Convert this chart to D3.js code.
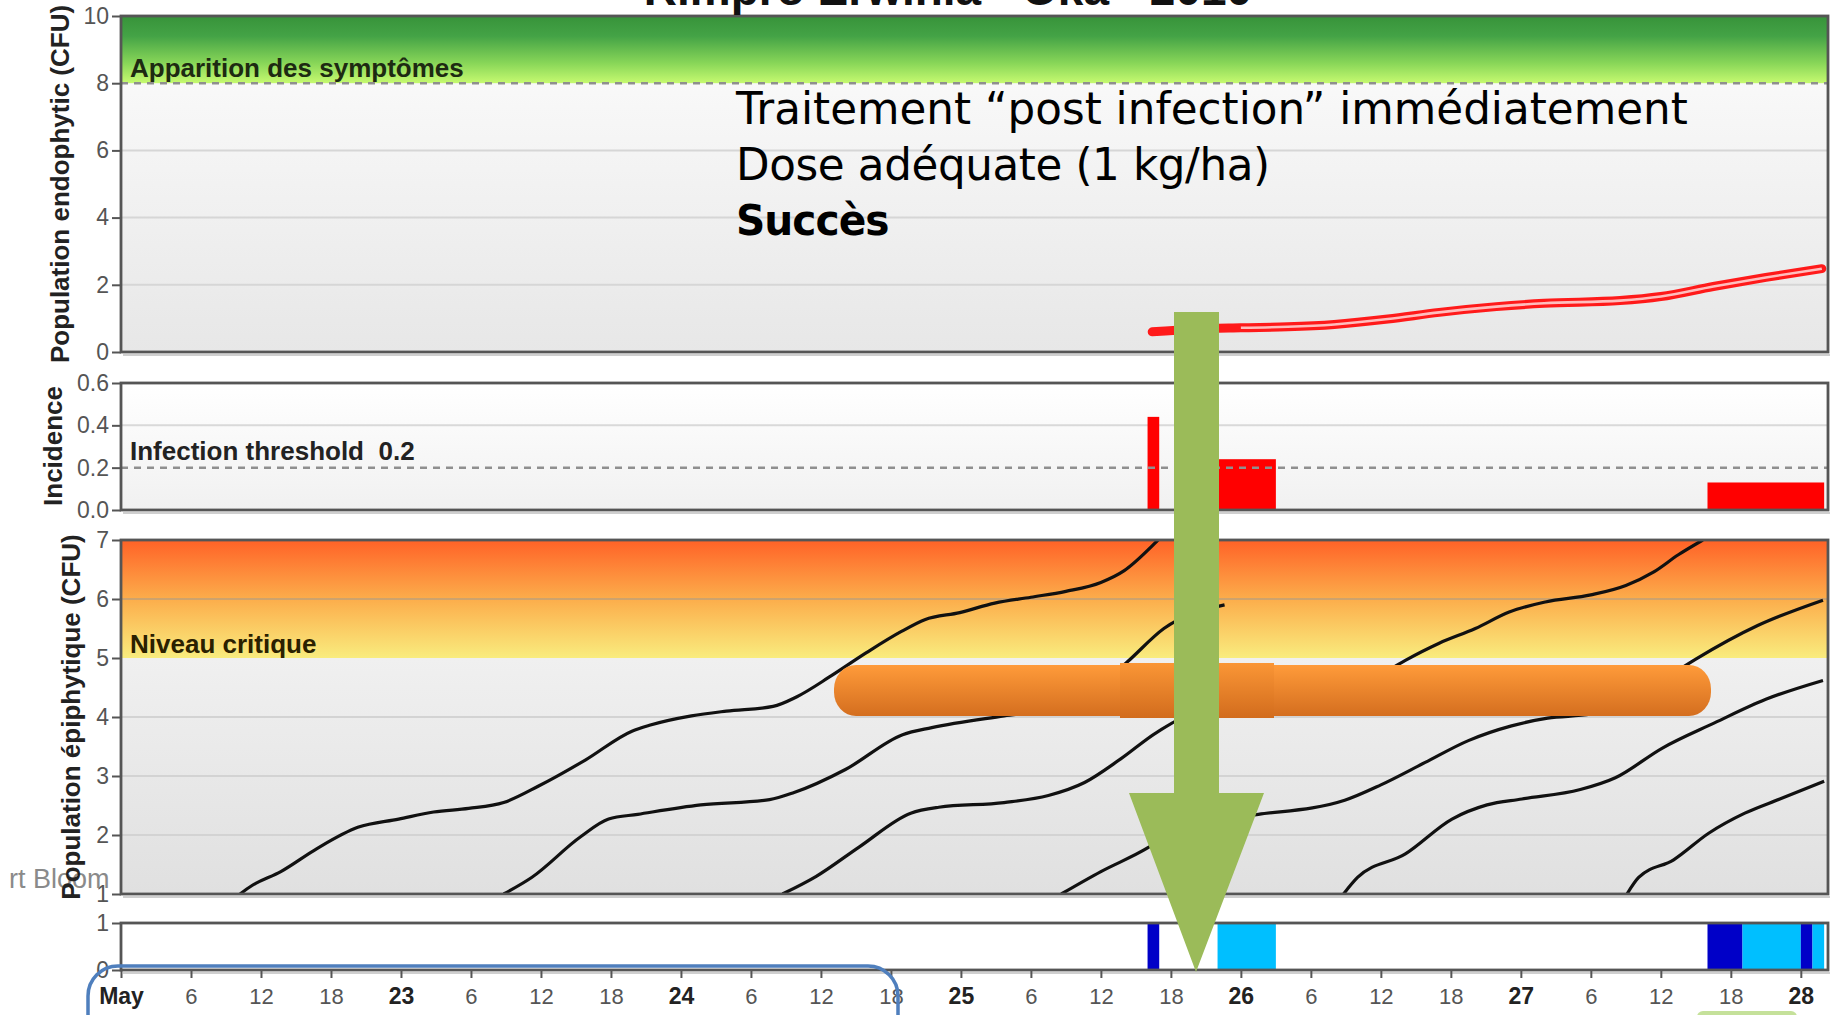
<!DOCTYPE html>
<html>
<head>
<meta charset="utf-8">
<script src="https://d3js.org/d3.v7.min.js"></script>
<style>
  body { margin: 0; background: #fff; }
  svg { display: block; }
  .chart-text { font-family: "Liberation Sans", Arial, sans-serif; }
</style>
</head>
<body>
<script>
'use strict';

// ---------- data (time = hours since May 22 2010, 00:00) ----------
const startDate = new Date(2010, 4, 22, 0, 0);
const endHour = 146.33;

const tickHours = d3.range(0, 145, 6);
const tickLabels = ["May", "6", "12", "18", "23", "6", "12", "18", "24", "6", "12", "18",
  "25", "6", "12", "18", "26", "6", "12", "18", "27", "6", "12", "18", "28"];

const endoTicks = [0, 2, 4, 6, 8, 10];
const incTicks = [0, 0.2, 0.4, 0.6];
const epiTicks = [1, 2, 3, 4, 5, 6, 7];
const wetTicks = [0, 1];

const symptomLevel = 8;
const infectionThreshold = 0.2;
const criticalLevel = 5;

// endophytic population (red line)
const endoLine = [[88.4, 0.6], [92, 0.68], [96, 0.72], [100, 0.75], [104, 0.82], [108.6, 0.98],
  [113, 1.18], [117.9, 1.35], [122, 1.45], [128.5, 1.53], [132, 1.65], [136.5, 1.95],
  [141, 2.22], [145.8, 2.48]];

// incidence bars
const incStart = [88, 94, 136];
const incEnd = [89, 99, 146];
const incValue = [0.44, 0.24, 0.13];

// epiphytic population curves
const epiCurve1 = [[10.2, 1.0], [11.2, 1.14], [13.7, 1.38], [16.8, 1.77], [20.3, 2.13], [23.8, 2.27],
  [26.8, 2.39], [29.8, 2.45], [32.8, 2.55], [35.8, 2.83], [39.8, 3.27], [43.8, 3.76], [45.3, 3.86],
  [48.9, 4.02], [51.9, 4.10], [55.9, 4.18], [57.9, 4.34], [60.9, 4.70], [63.9, 5.09], [66.9, 5.45],
  [68.9, 5.65], [71.9, 5.77], [74.9, 5.93], [78.0, 6.03], [81.0, 6.13], [84.0, 6.28], [86.0, 6.48],
  [88.5, 6.92], [89.0, 7.02]];
const epiCurve2 = [[32.8, 1.0], [35.2, 1.28], [39.4, 1.97], [41.8, 2.27], [44.3, 2.35], [49.7, 2.51],
  [55.6, 2.60], [57.7, 2.72], [62.1, 3.11], [67.0, 3.70], [69.5, 3.82], [75.7, 4.02], [79.5, 4.13],
  [83.2, 4.42], [86.3, 4.94], [89.4, 5.50], [94.6, 5.9]];
const epiCurve3 = [[56.7, 1.0], [59.6, 1.30], [63.3, 1.80], [67.7, 2.37], [70.1, 2.47], [75.7, 2.55],
  [79.5, 2.67], [82.6, 2.89], [85.7, 3.29], [88.8, 3.74], [92.0, 4.05], [98.0, 4.15], [104.0, 4.3],
  [107.0, 4.6], [110.1, 4.96], [113.0, 5.25], [116.1, 5.5], [119.0, 5.78], [122.1, 5.95],
  [126.0, 6.07], [129.0, 6.23], [131.4, 6.46], [133.5, 6.75], [135.6, 7.0]];
const epiCurve4 = [[80.6, 1.0], [84.0, 1.38], [88.0, 1.78], [90.0, 2.04], [93.0, 2.25], [97.5, 2.35],
  [104.9, 2.59], [108.0, 2.85], [111.8, 3.23], [115.5, 3.6], [119.2, 3.85], [122.3, 3.98],
  [126.0, 4.05], [129.0, 4.2], [132.0, 4.6], [135.0, 4.98], [140.3, 5.55], [145.9, 5.98]];
const epiCurve5 = [[104.8, 1.0], [106.0, 1.28], [110.1, 1.68], [114.1, 2.27], [117.1, 2.51],
  [120.1, 2.61], [125.1, 2.77], [128.1, 2.97], [132.1, 3.47], [136.6, 3.90], [141.0, 4.3], [145.9, 4.62]];
const epiCurve6 = [[129.1, 1.0], [130.1, 1.28], [133.1, 1.58], [136.1, 2.03], [139.2, 2.37],
  [142.2, 2.61], [146.0, 2.91]];
const epiCurves = [epiCurve1, epiCurve2, epiCurve3, epiCurve4, epiCurve5, epiCurve6];

// leaf wetness periods
const wetStart = [88, 94, 136, 139, 144, 145];
const wetEnd = [89, 99, 139, 144, 145, 146];
const wetType = ["dark", "light", "dark", "light", "dark", "light"];

// ---------- layout ----------
const m = { width: 1835, height: 1015, left: 121, right: 1828 };
const endoBox = { top: 16, bottom: 352 };
const incBox = { top: 383, bottom: 510 };
const epiBox = { top: 540, bottom: 894 };
const wetBox = { top: 923, bottom: 970 };

const svg = d3.select('body')
  .append('svg')
  .attr('width', m.width)
  .attr('height', m.height)
  .attr('class', 'chart-text');
const defs = svg.append('defs');

function hourToDate(h) { return new Date(startDate.getTime() + h * 3600e3); }

const x = d3.scaleTime()
  .domain([hourToDate(0), hourToDate(endHour)])
  .range([m.left, m.right]);
const xh = (h) => x(hourToDate(h));

const yEndo = d3.scaleLinear().domain([0, 10]).range([endoBox.bottom, endoBox.top]);
const yInc = d3.scaleLinear().domain([0, 0.6]).range([incBox.bottom, incBox.top]);
const yEpi = d3.scaleLinear().domain([1, 7]).range([epiBox.bottom, epiBox.top]);
const yWet = d3.scaleLinear().domain([0, 1]).range([wetBox.bottom, wetBox.top]);

// vertical gradients
function addGradient(id, stops) {
  const g = defs.append('linearGradient').attr('id', id)
    .attr('x1', 0).attr('y1', 0).attr('x2', 0).attr('y2', 1);
  stops.forEach((s) => g.append('stop').attr('offset', s[0]).attr('stop-color', s[1]));
}
addGradient('bgEndo', [[0, '#fdfdfd'], [1, '#e7e7e7']]);
addGradient('zoneGreen', [[0, '#37933a'], [0.3, '#44a346'], [0.7, '#88d658'], [1, '#c6fa70']]);
addGradient('bgInc', [[0, '#ffffff'], [1, '#f1f1f1']]);
addGradient('zoneOrange', [[0, '#ff6227'], [0.5, '#fcad4b'], [1, '#f9ec7e']]);
addGradient('bgEpi', [[0, '#f8f8f8'], [1, '#e0e0e0']]);
addGradient('barOrange', [[0, '#ff9b3a'], [1, '#d46e1f']]);
addGradient('barOrangeMid', [[0, '#fa9636'], [1, '#d26c1d']]);

function addClip(id, box) {
  defs.append('clipPath').attr('id', id)
    .append('rect')
    .attr('x', m.left).attr('y', box.top)
    .attr('width', m.right - m.left).attr('height', box.bottom - box.top);
}
addClip('clipEndo', endoBox);
addClip('clipInc', incBox);
addClip('clipEpi', epiBox);
addClip('clipWet', wetBox);

// background, gridlines
function drawBackground(box, fill) {
  svg.append('rect')
    .attr('x', m.left).attr('y', box.top)
    .attr('width', m.right - m.left).attr('height', box.bottom - box.top)
    .attr('fill', fill);
}

function drawGrid(yScale, values, color) {
  svg.append('g').selectAll('line')
    .data(values)
    .enter()
    .append('line')
    .attr('x1', m.left).attr('x2', m.right)
    .attr('y1', yScale).attr('y2', yScale)
    .attr('stroke', color)
    .attr('stroke-width', 2);
}

function drawDashed(yScale, value) {
  svg.append('line')
    .attr('x1', m.left).attr('x2', m.right)
    .attr('y1', yScale(value)).attr('y2', yScale(value))
    .attr('stroke', '#8f8f8f')
    .attr('stroke-width', 2.5)
    .attr('stroke-dasharray', '7 6');
}

function drawFrame(box) {
  // soft shadow under the frame
  svg.append('line')
    .attr('x1', m.left + 2).attr('x2', m.right + 2)
    .attr('y1', box.bottom + 3).attr('y2', box.bottom + 3)
    .attr('stroke', '#cfcfcf').attr('stroke-width', 2);
  svg.append('rect')
    .attr('x', m.left).attr('y', box.top)
    .attr('width', m.right - m.left).attr('height', box.bottom - box.top)
    .attr('fill', 'none')
    .attr('stroke', '#555')
    .attr('stroke-width', 2.8);
}

function drawYAxis(yScale, ticks, fmt) {
  const axis = d3.axisLeft(yScale)
    .tickValues(ticks)
    .tickSize(9)
    .tickPadding(3)
    .tickFormat(fmt);
  const g = svg.append('g')
    .attr('transform', 'translate(' + m.left + ',0)')
    .call(axis);
  g.select('.domain').remove();
  g.selectAll('line').attr('stroke', '#555').attr('stroke-width', 2);
  g.selectAll('text')
    .attr('fill', '#555')
    .style('font-size', '23px')
    .style('font-family', '"Liberation Sans", Arial, sans-serif');
}

const line = d3.line()
  .x((d) => xh(d[0]))
  .y((d) => yEpi(d[1]))
  .curve(d3.curveMonotoneX);

// ---------- panel 1 : endophytic population ----------
drawBackground(endoBox, 'url(#bgEndo)');
svg.append('rect')
  .attr('x', m.left).attr('y', yEndo(10))
  .attr('width', m.right - m.left).attr('height', yEndo(symptomLevel) - yEndo(10))
  .attr('fill', 'url(#zoneGreen)');
drawGrid(yEndo, [2, 4, 6], '#d6d6d6');
drawDashed(yEndo, symptomLevel);

const endoPath = d3.line()
  .x((d) => xh(d[0]))
  .y((d) => yEndo(d[1]))
  .curve(d3.curveMonotoneX);
const endoG = svg.append('g').attr('clip-path', 'url(#clipEndo)');
endoG.append('path')
  .datum(endoLine)
  .attr('d', endoPath)
  .attr('fill', 'none')
  .attr('stroke', '#ff1a1a')
  .attr('stroke-width', 9)
  .attr('stroke-linecap', 'round');
endoG.append('path')
  .datum(endoLine.filter((d) => d[0] >= 95))
  .attr('d', endoPath)
  .attr('fill', 'none')
  .attr('stroke', '#ffbdbd')
  .attr('stroke-width', 2.6);

svg.append('text')
  .attr('x', 130).attr('y', 77)
  .style('font-size', '26px').style('font-weight', 'bold')
  .attr('fill', '#1d2a12')
  .text('Apparition des symptômes');

drawFrame(endoBox);
drawYAxis(yEndo, endoTicks, d3.format('d'));

// ---------- panel 2 : incidence ----------
drawBackground(incBox, 'url(#bgInc)');
drawGrid(yInc, [0.4], '#d9d9d9');
const incData = incStart.map((s, i) => ({ s: s, e: incEnd[i], v: incValue[i] }));
svg.append('g').attr('clip-path', 'url(#clipInc)')
  .selectAll('rect')
  .data(incData)
  .enter()
  .append('rect')
  .attr('x', (d) => xh(d.s))
  .attr('width', (d) => xh(d.e) - xh(d.s))
  .attr('y', (d) => yInc(d.v))
  .attr('height', (d) => yInc(0) - yInc(d.v))
  .attr('fill', '#ff0000');
drawDashed(yInc, infectionThreshold);

svg.append('text')
  .attr('x', 130).attr('y', 460)
  .style('font-size', '26px').style('font-weight', 'bold')
  .style('white-space', 'pre')
  .attr('fill', '#222')
  .text('Infection threshold  0.2');

drawFrame(incBox);
drawYAxis(yInc, incTicks, d3.format('.1f'));

// ---------- panel 3 : epiphytic population ----------
drawBackground(epiBox, 'url(#bgEpi)');
svg.append('rect')
  .attr('x', m.left).attr('y', yEpi(7))
  .attr('width', m.right - m.left).attr('height', yEpi(criticalLevel) - yEpi(7))
  .attr('fill', 'url(#zoneOrange)');
drawGrid(yEpi, [2, 3, 4], '#d3d3d3');
drawGrid(yEpi, [6], 'rgba(150,150,150,0.45)');

svg.append('g').attr('clip-path', 'url(#clipEpi)')
  .selectAll('path')
  .data(epiCurves)
  .enter()
  .append('path')
  .attr('d', line)
  .attr('fill', 'none')
  .attr('stroke', '#111')
  .attr('stroke-width', 3.2);

svg.append('text')
  .attr('x', 130).attr('y', 653)
  .style('font-size', '26px').style('font-weight', 'bold')
  .attr('fill', '#2a2000')
  .text('Niveau critique');

drawFrame(epiBox);
drawYAxis(yEpi, epiTicks, d3.format('d'));

// ---------- panel 4 : leaf wetness ----------
drawBackground(wetBox, '#ffffff');
const wetData = wetStart.map((s, i) => ({ s: s, e: wetEnd[i], t: wetType[i] }));
svg.append('g').attr('clip-path', 'url(#clipWet)')
  .selectAll('rect')
  .data(wetData)
  .enter()
  .append('rect')
  .attr('x', (d) => xh(d.s))
  .attr('width', (d) => xh(d.e) - xh(d.s))
  .attr('y', yWet(1))
  .attr('height', yWet(0) - yWet(1))
  .attr('fill', (d) => d.t === 'dark' ? '#0000c8' : '#00bfff');
drawFrame(wetBox);
drawYAxis(yWet, wetTicks, d3.format('d'));

// time axis under the last panel
const xAxis = d3.axisBottom(x)
  .tickValues(tickHours.map(hourToDate))
  .tickSize(8)
  .tickPadding(10)
  .tickFormat((d, i) => tickLabels[i]);
const xg = svg.append('g')
  .attr('transform', 'translate(0,' + wetBox.bottom + ')')
  .call(xAxis);
xg.select('.domain').remove();
xg.selectAll('line').attr('stroke', '#555').attr('stroke-width', 2);
xg.selectAll('text')
  .style('font-family', '"Liberation Sans", Arial, sans-serif')
  .style('font-size', (d, i) => i % 4 === 0 ? '23px' : '22px')
  .style('font-weight', (d, i) => i % 4 === 0 ? 'bold' : 'normal')
  .attr('fill', (d, i) => i % 4 === 0 ? '#222' : '#555');

// ---------- titles and axis labels ----------
svg.append('text')
  .attr('x', 948).attr('y', 5)
  .attr('text-anchor', 'middle')
  .style('font-size', '46px').style('font-weight', 'bold')
  .attr('fill', '#111')
  .text('Rimpro Erwinia - Oka - 2010');

svg.append('text')
  .attr('x', 9).attr('y', 888)
  .style('font-size', '27px')
  .attr('fill', '#8a8a8a')
  .text('rt Bloom');

function yLabel(text, tx, ty) {
  svg.append('text')
    .attr('transform', 'translate(' + tx + ',' + ty + ')rotate(-90)')
    .attr('text-anchor', 'middle')
    .style('font-size', '26px').style('font-weight', 'bold')
    .attr('fill', '#222')
    .text(text);
}
yLabel('Population endophytic (CFU)', 69, 184);
yLabel('Incidence', 62, 446);
yLabel('Population épiphytique (CFU)', 80, 717);

// ---------- slide annotations on top ----------
// orange bar across the epiphytic panel
svg.append('rect')
  .attr('x', 834).attr('y', 665)
  .attr('width', 877).attr('height', 51)
  .attr('rx', 22).attr('ry', 24)
  .attr('fill', 'url(#barOrange)');
svg.append('rect')
  .attr('x', 1120).attr('y', 663)
  .attr('width', 154).attr('height', 55)
  .attr('fill', 'url(#barOrangeMid)');

// green arrow pointing down at the treatment time
svg.append('path')
  .attr('d', 'M1174,312 L1219,312 L1219,793 L1264,793 L1196,972 L1129,793 L1174,793 Z')
  .attr('fill', '#9bbb59');

// annotation text
const note = svg.append('g')
  .style('font-family', '"DejaVu Sans", "Open Sans", sans-serif')
  .attr('fill', '#000');
const noteLines = [
  { t: 'Traitement “post infection” immédiatement', y: 124, w: 'normal', size: 45, ls: 0 },
  { t: 'Dose adéquate (1 kg/ha)', y: 180, w: 'normal', size: 45, ls: -0.4 },
  { t: 'Succès', y: 235, w: 'bold', size: 42, ls: -1 }
];
const noteTexts = note.selectAll('text')
  .data(noteLines)
  .enter()
  .append('text')
  .attr('x', 0).attr('y', (d) => d.y)
  .style('font-size', (d) => d.size + 'px')
  .style('font-weight', (d) => d.w)
  .style('letter-spacing', (d) => d.ls + 'px')
  .text((d) => d.t);
// squeeze the text so the first line spans the same width as on the slide
const firstWidth = noteTexts.nodes()[0].getComputedTextLength();
const sx = 952 / firstWidth;
note.attr('transform', 'translate(736,0) scale(' + sx + ',1)');

// blue rounded frame around the first days
svg.append('rect')
  .attr('x', 88).attr('y', 966)
  .attr('width', 810).attr('height', 90)
  .attr('rx', 30)
  .attr('fill', 'none')
  .attr('stroke', '#4f7fbd')
  .attr('stroke-width', 3.5);

// small green shape peeking in at the bottom right
svg.append('rect')
  .attr('x', 1697).attr('y', 1011)
  .attr('width', 100).attr('height', 20)
  .attr('rx', 6)
  .attr('fill', '#c5e19a');
</script>
</body>
</html>
